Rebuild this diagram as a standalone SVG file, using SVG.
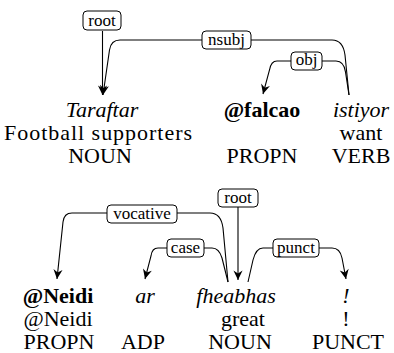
<svg xmlns="http://www.w3.org/2000/svg" width="394" height="353" viewBox="0 0 394 353">
<style>
  text { font-family: "Liberation Serif", "DejaVu Serif", serif; }
  .w { font-size: 22px; fill: #000; text-anchor: middle; }
  .i { font-style: italic; }
  .b { font-weight: bold; }
  .e { fill: none; stroke: #000; stroke-width: 1.1; }
  .a { marker-end: url(#arr); }
  .lb { fill: #fff; stroke: #000; stroke-width: 1; }
  .lt { font-size: 17px; fill: #000; text-anchor: middle; }
</style>
<defs>
  <marker id="arr" markerUnits="userSpaceOnUse" markerWidth="12" markerHeight="12" viewBox="-9 -5 10 10" refX="0" refY="0" orient="auto">
    <path d="M0,0 L-8,-3.8 L-5.5,0 L-8,3.8 Z" fill="#000"/>
  </marker>
</defs>
<rect width="394" height="353" fill="#fff"/>

<g id="edges">
  <!-- sentence 1 -->
  <path class="e a" d="M102.5,31 L102.5,95"/>
  <path class="e a" d="M349,95 L345,55 Q343,40 332,40 L120,40 Q111,40 109.5,50 L103,95"/>
  <path class="e a" d="M349,95 L345.5,72 Q344,61 336,61 L277,61 Q271,61 269.5,70 L263,94"/>
  <g id="lbl-root1"><rect class="lb" x="83" y="11" width="38" height="19" rx="4"/><text class="lt" x="102" y="26">root</text></g>
  <g id="lbl-nsubj"><rect class="lb" x="202" y="31" width="49" height="18" rx="4"/><text class="lt" x="226.5" y="45">nsubj</text></g>
  <g id="lbl-obj"><rect class="lb" x="291" y="52" width="31" height="18" rx="4"/><text class="lt" x="306.5" y="65">obj</text></g>
  <!-- sentence 2 -->
  <path class="e a" d="M238,206 L238,280"/>
  <path class="e a" d="M228,282 L223,228 Q221,213 210,213 L72,213 Q64,213 63,222 L57,279"/>
  <path class="e a" d="M228,282 L222,258 Q219,248 212,248 L158,248 Q152,248 151,256 L145,279"/>
  <path class="e a" d="M248,282 L253,260 Q256,248 263,248 L332,248 Q340,248 342,258 L346,279"/>
  <g id="lbl-root2"><rect class="lb" x="218" y="189" width="40" height="18" rx="4"/><text class="lt" x="238" y="203">root</text></g>
  <g id="lbl-vocative"><rect class="lb" x="107" y="205" width="70" height="18" rx="4"/><text class="lt" x="142" y="219">vocative</text></g>
  <g id="lbl-case"><rect class="lb" x="167" y="239" width="37" height="18" rx="4"/><text class="lt" x="185.5" y="253">case</text></g>
  <g id="lbl-punct"><rect class="lb" x="273" y="239" width="46" height="18" rx="4"/><text class="lt" x="296" y="253">punct</text></g>
</g>

<g id="tok-taraftar">
  <text class="w i" x="102" y="117">Taraftar</text>
  <text class="w" x="98" y="140" textLength="188">Football supporters</text>
  <text class="w" x="100" y="163">NOUN</text>
</g>
<g id="tok-falcao">
  <text class="w b" x="262" y="117">@falcao</text>
  <text class="w" x="262" y="163">PROPN</text>
</g>
<g id="tok-istiyor">
  <text class="w i" x="361" y="117">istiyor</text>
  <text class="w" x="361" y="140">want</text>
  <text class="w" x="361" y="163">VERB</text>
</g>
<g id="tok-neidi">
  <text class="w b" x="58" y="303">@Neidi</text>
  <text class="w" x="58" y="326">@Neidi</text>
  <text class="w" x="59" y="349">PROPN</text>
</g>
<g id="tok-ar">
  <text class="w i" x="145" y="303">ar</text>
  <text class="w" x="143" y="349">ADP</text>
</g>
<g id="tok-fheabhas">
  <text class="w i" x="236" y="303">fheabhas</text>
  <text class="w" x="243" y="326">great</text>
  <text class="w" x="240" y="349">NOUN</text>
</g>
<g id="tok-excl">
  <text class="w i" x="346" y="303">!</text>
  <text class="w" x="346" y="326">!</text>
  <text class="w" x="348" y="349">PUNCT</text>
</g>
</svg>
